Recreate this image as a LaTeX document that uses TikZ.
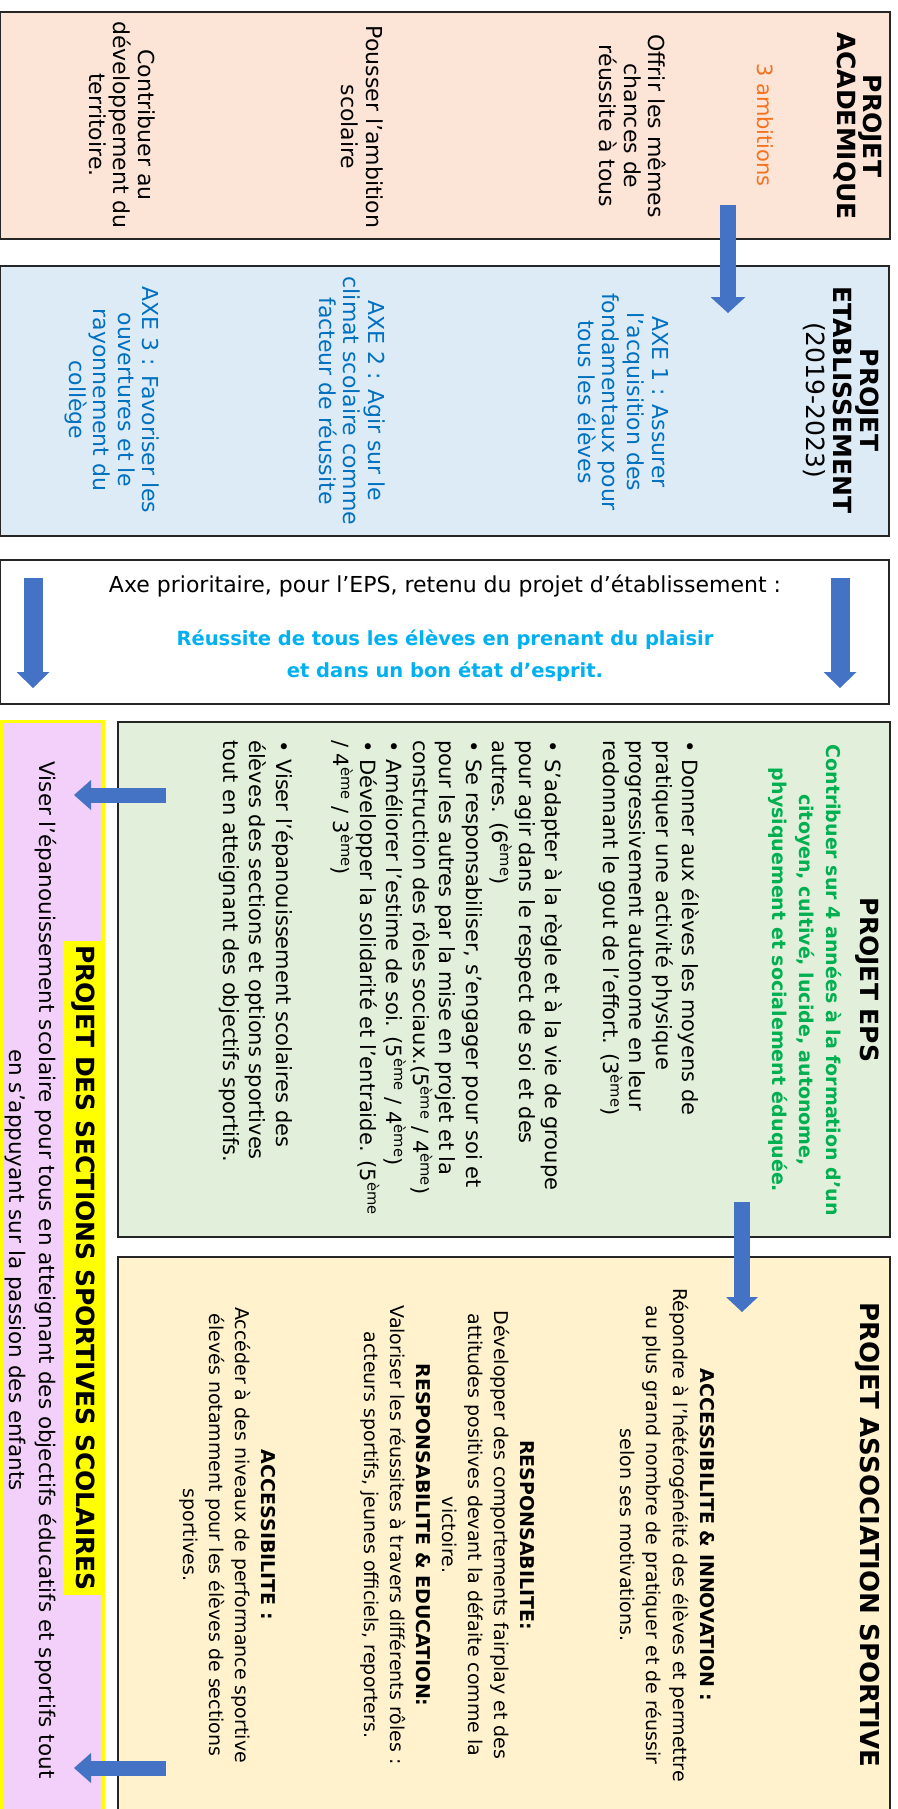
\documentclass[tikz,border=0pt]{standalone}
\usepackage{fontspec}
\setmainfont{DejaVu Sans}
\usetikzlibrary{arrows.meta}
\definecolor{cpeach}{HTML}{FCE4D6}
\definecolor{cblue}{HTML}{DDEBF7}
\definecolor{cgreen}{HTML}{E2EFDA}
\definecolor{ccream}{HTML}{FFF2CC}
\definecolor{cpink}{HTML}{F2D0FA}
\definecolor{cyellow}{HTML}{FFFF00}
\definecolor{arrowblue}{HTML}{4472C4}
\definecolor{torange}{HTML}{F4731F}
\definecolor{tblue}{HTML}{0070C0}
\definecolor{tcyan}{HTML}{00B0F0}
\definecolor{tgreen}{HTML}{00B050}
\definecolor{edgegray}{HTML}{262626}
\newcommand{\fsz}[2]{\fontsize{#1}{#2}\selectfont}
\newcommand{\eme}{\textsuperscript{ème}}
\begin{document}
\begin{tikzpicture}[x=1pt,y=-1pt,
  panel/.style={draw=edgegray, line width=1.5pt, inner sep=0pt},
  vtext/.style={rotate=-90, align=center, inner sep=0pt},
  downarrow/.style={draw=arrowblue, line width=#1},
  bigtip/.style n args={2}{-{Triangle[width=#1,length=#2,line width=0pt]}}
]
\useasboundingbox (0,0) rectangle (897,1809);
\fill[white] (0,0) rectangle (897,1809);

% ---------- panels ----------
\node[panel, fill=cpeach, minimum width=890pt, minimum height=227pt] (acad) at (445,125.5) {};
\node[panel, fill=cblue, minimum width=889pt, minimum height=270pt] (etab) at (444.5,401) {};
\node[panel, fill=white, minimum width=889pt, minimum height=144pt] (axe) at (444.5,632) {};
\node[panel, fill=cgreen, minimum width=772pt, minimum height=515pt] (eps) at (504,979.5) {};
\node[panel, fill=ccream, minimum width=772pt, minimum height=558pt] (asso) at (504,1536) {};
\node[draw=cyellow, line width=3pt, fill=cpink, inner sep=0pt, minimum width=102pt, minimum height=1094pt] (sect) at (52.5,1268) {};

% ---------- projet academique ----------
\node[vtext, font=\bfseries\fsz{25}{26}] (acadT) at (858,126) {PROJET\\ACADEMIQUE};
\node[vtext, text=torange, font=\fsz{21}{26}] (acadA) at (765,125) {3 ambitions};
\node[vtext, font=\fsz{22}{24.5}] (acad1) at (633,126) {Offrir les mêmes\\chances de\\réussite à tous};
\node[vtext, font=\fsz{22}{24.5}] (acad2) at (362,127) {Pousser l’ambition\\scolaire};
\node[vtext, font=\fsz{22}{24.5}] (acad3) at (122,125) {Contribuer au\\développement du\\territoire.};

% ---------- projet etablissement ----------
\node[vtext, font=\fsz{25}{27}] (etabT) at (841,400) {\textbf{PROJET}\\\textbf{ETABLISSEMENT}\\(2019-2023)};
\node[vtext, text=tblue, font=\fsz{22}{24.6}] (etab1) at (623,402) {AXE 1 : Assurer\\l’acquisition des\\fondamentaux pour\\tous les élèves};
\node[vtext, text=tblue, font=\fsz{22}{24.6}] (etab2) at (352,401) {AXE 2 : Agir sur le\\climat scolaire comme\\facteur de réussite};
\node[vtext, text=tblue, font=\fsz{22}{24.6}] (etab3) at (112,400) {AXE 3 : Favoriser les\\ouvertures et le\\rayonnement du\\collège};

% ---------- axe prioritaire ----------
\node[inner sep=0pt, font=\fsz{22}{26}] (axeT) at (445,586) {Axe prioritaire, pour l’EPS, retenu du projet d’établissement :};
\node[inner sep=0pt, align=center, text=tcyan, font=\bfseries\fsz{19.5}{32}] (axeR) at (445,656) {Réussite de tous les élèves en prenant du plaisir\\et dans un bon état d’esprit.};

% ---------- projet EPS ----------
\node[vtext, font=\bfseries\fsz{25}{30}] (epsT) at (867,980) {PROJET EPS};
\node[vtext, text=tgreen, font=\bfseries\fsz{19}{27}] (epsG) at (805,980) {Contribuer sur 4 années à la formation d’un\\citoyen, cultivé, lucide, autonome,\\physiquement et socialement éduquée.};
\node[vtext, align=left, anchor=west, font=\fsz{21}{26.5}] (epsB) at (459,740) {%
• Donner aux élèves les moyens de\\
pratiquer une activité physique\\
progressivement autonome en leur\\
redonnant le gout de l’effort. (3\eme)\\[31pt]
• S’adapter à la règle et à la vie de groupe\\
pour agir dans le respect de soi et des\\
autres. (6\eme)\\
• Se responsabiliser, s’engager pour soi et\\
pour les autres par la mise en projet et la\\
construction des rôles sociaux.(5\eme{} / 4\eme)\\
• Améliorer l’estime de soi. (5\eme{} / 4\eme)\\
• Développer la solidarité et l’entraide. (5\eme\\
/ 4\eme{} / 3\eme)\\[31pt]
• Viser l’épanouissement scolaires des\\
élèves des sections et options sportives\\
tout en atteignant des objectifs sportifs.};

% ---------- sections sportives ----------
\node[vtext, fill=cyellow, font=\bfseries\fsz{25}{28}, inner xsep=4pt, minimum height=41pt] (sectT) at (83,1268) {PROJET DES SECTIONS SPORTIVES SCOLAIRES};
\node[vtext, font=\fsz{21.5}{30}] (sectB) at (31,1270) {Viser l’épanouissement scolaire pour tous en atteignant des objectifs éducatifs et sportifs tout\\en s’appuyant sur la passion des enfants};

% ---------- association sportive ----------
\node[vtext, font=\bfseries\fsz{26}{30}] (asT) at (868,1535) {PROJET ASSOCIATION SPORTIVE};
\node[vtext, font=\fsz{19}{26.7}] (asA) at (667,1535) {\textbf{ACCESSIBILITE \& INNOVATION :}\\Répondre à l’hétérogénéité des élèves et permettre\\au plus grand nombre de pratiquer et de réussir\\selon ses motivations.};
\node[vtext, font=\fsz{19}{26}] (asB) at (448,1535) {\textbf{RESPONSABILITE:}\\Développer des comportements fairplay et des\\attitudes positives devant la défaite comme la\\victoire.\\\textbf{RESPONSABILITE \& EDUCATION:}\\Valoriser les réussites à travers différents rôles :\\acteurs sportifs, jeunes officiels, reporters.};
\node[vtext, font=\fsz{19}{26}] (asC) at (228,1535) {\textbf{ACCESSIBILITE :}\\Accéder à des niveaux de performance sportive\\élevés notamment pour les élèves de sections\\sportives.};

% ---------- arrows ----------
\coordinate (a1s) at (728,205);  \coordinate (a1e) at (728,313);
\coordinate (a2s) at (33,578);   \coordinate (a2e) at (33,688);
\coordinate (a3s) at (840,578);  \coordinate (a3e) at (840,688);
\coordinate (a4s) at (742,1202); \coordinate (a4e) at (742,1312);
\coordinate (a5s) at (166,795);  \coordinate (a5e) at (74,795);
\coordinate (a6s) at (166,1768); \coordinate (a6e) at (74,1768);
\draw[downarrow=16pt, bigtip={35pt}{16pt}] (a1s) -- (a1e);
\draw[downarrow=19pt, bigtip={33pt}{16pt}] (a2s) -- (a2e);
\draw[downarrow=19pt, bigtip={33pt}{16pt}] (a3s) -- (a3e);
\draw[downarrow=16pt, bigtip={32pt}{15pt}] (a4s) -- (a4e);
\draw[downarrow=15pt, bigtip={30pt}{17pt}] (a5s) -- (a5e);
\draw[downarrow=15pt, bigtip={30pt}{17pt}] (a6s) -- (a6e);
\end{tikzpicture}
\end{document}
